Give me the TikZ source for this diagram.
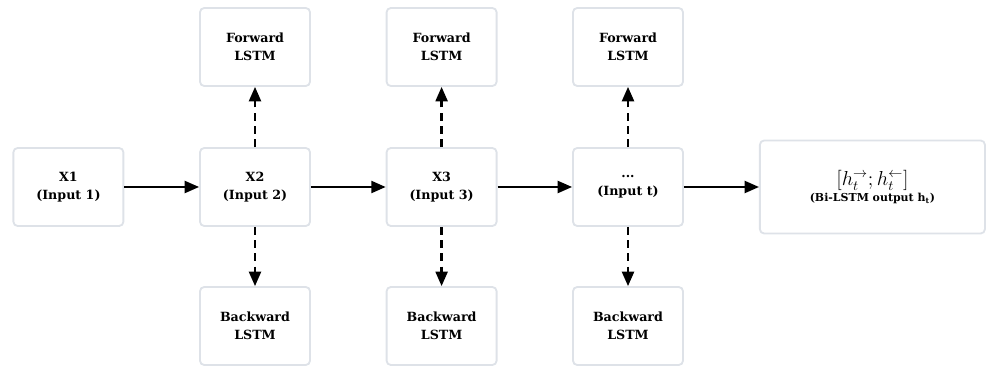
\documentclass[tikz,border=0pt]{standalone}
\usepackage{fontspec}
\setmainfont{DejaVu Serif}
\usetikzlibrary{arrows.meta}
\definecolor{boxgray}{RGB}{222,226,232}
\begin{document}
\begin{tikzpicture}[align=center, font=\bfseries\fontsize{9}{13}\selectfont]
\tikzstyle{v} = [draw=boxgray, line width=1.3pt, rounded corners=3pt, fill=white, minimum width=2.75cm, minimum height=1.95cm, inner sep=2pt]
\tikzstyle{e} = [draw=black, line width=1.6pt, -{Triangle[length=0.36cm, width=0.3cm]}]
\tikzstyle{d} = [e, dash pattern=on 0.2cm off 0.13cm]
\useasboundingbox (0,0) rectangle (25,9.15);

\node[v] (X1) at (1.71, 4.475) {X1\\(Input 1)};
\node[v] (X2) at (6.375, 4.475) {X2\\(Input 2)};
\node[v] (X3) at (11.04, 4.475) {X3\\(Input 3)};
\node[v] (Xt) at (15.7, 4.475) {...\\(Input t)};
\node[v, minimum width=5.625cm, minimum height=2.325cm] (H) at (21.81, 4.475)
  {{\fontsize{14.5}{16}\selectfont\mdseries $[h_t^{\rightarrow}; h_t^{\leftarrow}]$}\\[-1pt]{\fontsize{7.8}{10}\selectfont (Bi-LSTM output h\textsubscript{t})}};

\node[v] (F2) at (6.375, 7.975) {Forward\\LSTM};
\node[v] (F3) at (11.04, 7.975) {Forward\\LSTM};
\node[v] (Ft) at (15.7, 7.975) {Forward\\LSTM};
\node[v] (B2) at (6.375, 1.0) {Backward\\LSTM};
\node[v] (B3) at (11.04, 1.0) {Backward\\LSTM};
\node[v] (Bt) at (15.7, 1.0) {Backward\\LSTM};

\draw[e] (X1) to (X2);
\draw[e] (X2) to (X3);
\draw[e] (X3) to (Xt);
\draw[e] (Xt) to (H);
\draw[d] (X2) to (F2);
\draw[d] (X3) to (F3);
\draw[d] (Xt) to (Ft);
\draw[d] (X2) to (B2);
\draw[d] (X3) to (B3);
\draw[d] (Xt) to (Bt);
\end{tikzpicture}
\end{document}
